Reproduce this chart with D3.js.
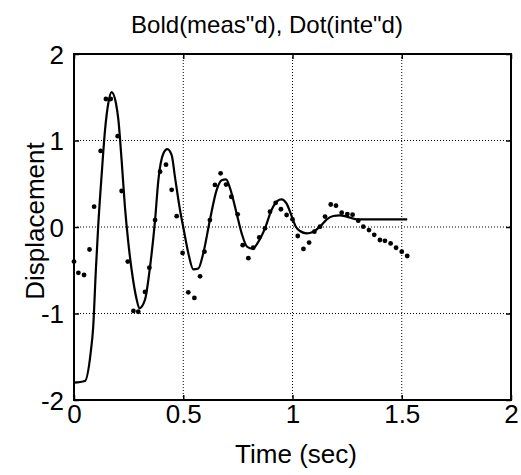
<!DOCTYPE html>
<html>
<head>
<meta charset="utf-8">
<script src="https://cdn.jsdelivr.net/npm/d3@7"></script>
<style>
  html, body { margin: 0; padding: 0; background: #fff; }
  svg { display: block; }
  text { font-family: "Liberation Sans", Arial, sans-serif; fill: #000; }
</style>
</head>
<body>
<svg id="chart" width="521" height="475"></svg>
<script>
// Measured response (solid line): time (s) and displacement
const measT = [0, 0.05, 0.076, 0.088, 0.1, 0.111, 0.127, 0.142, 0.157, 0.172, 0.192, 0.203, 0.218, 0.233,
  0.249, 0.264, 0.287, 0.299, 0.325, 0.348, 0.371, 0.386, 0.409, 0.427, 0.447, 0.462, 0.485, 0.5,
  0.523, 0.546, 0.569, 0.592, 0.622, 0.653, 0.676, 0.696, 0.714, 0.744, 0.767, 0.793, 0.818, 0.844,
  0.874, 0.904, 0.93, 0.95, 0.973, 0.996, 1.016, 1.034, 1.065, 1.095, 1.126, 1.157, 1.187, 1.217,
  1.248, 1.294, 1.525];
const measV = [-1.80, -1.78, -1.46, -1.15, -0.50, 0.02, 0.62, 1.12, 1.43, 1.56, 1.43, 1.24, 0.77, 0.235,
  -0.19, -0.50, -0.84, -0.94, -0.84, -0.46, 0.08, 0.54, 0.85, 0.90, 0.83, 0.58, 0.20, 0.0,
  -0.30, -0.49, -0.48, -0.30, 0.08, 0.43, 0.54, 0.55, 0.45, 0.16, -0.07, -0.23, -0.25, -0.17,
  -0.015, 0.197, 0.30, 0.32, 0.27, 0.127, 0.0, -0.046, -0.073, -0.054, 0.004, 0.089, 0.127, 0.135,
  0.12, 0.089, 0.089];

// Integrated estimate (dots): time (s) and displacement
const inteT = [0, 0.02, 0.046, 0.071, 0.092, 0.122, 0.146, 0.168, 0.2, 0.218, 0.246, 0.272, 0.294,
  0.325, 0.345, 0.371, 0.394, 0.421, 0.447, 0.47, 0.497, 0.523, 0.551, 0.577, 0.597, 0.622, 0.645,
  0.671, 0.696, 0.72, 0.749, 0.772, 0.798, 0.82, 0.848, 0.874, 0.897, 0.923, 0.947, 0.973, 1.0,
  1.024, 1.05, 1.076, 1.1, 1.126, 1.149, 1.175, 1.199, 1.225, 1.251, 1.275, 1.301, 1.324, 1.35,
  1.374, 1.4, 1.423, 1.449, 1.474, 1.5, 1.525];
const inteV = [-0.40, -0.53, -0.555, -0.26, 0.235, 0.88, 1.48, 1.48, 1.05, 0.416, -0.40, -0.97, -0.98,
  -0.75, -0.47, 0.08, 0.64, 0.72, 0.43, 0.125, -0.30, -0.755, -0.82, -0.57, -0.285, 0.08, 0.486,
  0.62, 0.49, 0.35, 0.147, -0.21, -0.36, -0.24, -0.12, -0.015, 0.177, 0.28, 0.205, 0.139, 0.089,
  -0.104, -0.254, -0.18, -0.054, 0.004, 0.12, 0.26, 0.246, 0.166, 0.15, 0.142, 0.073, 0.004, -0.035,
  -0.09, -0.15, -0.16, -0.19, -0.24, -0.285, -0.335];

const xTicks = [0, 0.5, 1, 1.5, 2];
const yTicks = [-2, -1, 0, 1, 2];
const xTickLabels = ["0", "0.5", "1", "1.5", "2"];
const yTickLabels = ["-2", "-1", "0", "1", "2"];

const titleText = "Bold(meas\"d), Dot(inte\"d)";
const xLabel = "Time (sec)";
const yLabel = "Displacement";

const svg = d3.select("#chart");
const L = 74, R = 511, T = 54, B = 400;

const x = d3.scaleLinear().domain([0, 2]).range([L, R]);
const y = d3.scaleLinear().domain([-2, 2]).range([B, T]);

// Dotted grid
const grid = svg.append("g").attr("stroke", "#000").attr("stroke-width", 1)
  .attr("stroke-dasharray", "1,2").attr("fill", "none");
grid.selectAll("line.gx").data(xTicks.slice(1, -1)).join("line")
  .attr("x1", d => x(d)).attr("x2", d => x(d)).attr("y1", T).attr("y2", B);
grid.selectAll("line.gy").data(yTicks.slice(1, -1)).join("line")
  .attr("y1", d => y(d)).attr("y2", d => y(d)).attr("x1", L).attr("x2", R);

// Axes with inward ticks on all four sides
const tickLen = 5;
svg.append("g").attr("transform", `translate(0,${B})`)
  .call(d3.axisBottom(x).tickValues(xTicks).tickSizeInner(-tickLen).tickSizeOuter(0).tickFormat((d, i) => xTickLabels[i]))
  .call(g => g.selectAll("text").attr("dy", 0).attr("y", 23).style("font-size", "26px")
    .style("font-family", "'Liberation Sans', Arial, sans-serif"));
svg.append("g").attr("transform", `translate(0,${T})`)
  .call(d3.axisTop(x).tickValues(xTicks).tickSizeInner(-tickLen).tickSizeOuter(0).tickFormat(""));
svg.append("g").attr("transform", `translate(${L},0)`)
  .call(d3.axisLeft(y).tickValues(yTicks).tickSizeInner(-tickLen).tickSizeOuter(0).tickFormat((d, i) => yTickLabels[i]))
  .call(g => g.selectAll("text").attr("x", -10).attr("dy", "0.36em").style("font-size", "26px")
    .style("font-family", "'Liberation Sans', Arial, sans-serif"));
svg.append("g").attr("transform", `translate(${R},0)`)
  .call(d3.axisRight(y).tickValues(yTicks).tickSizeInner(-tickLen).tickSizeOuter(0).tickFormat(""));
svg.selectAll(".domain").remove();
svg.selectAll(".tick line").attr("stroke", "#000").attr("stroke-width", 1.5);
svg.selectAll(".tick text").attr("fill", "#000");

// Plot frame
svg.append("rect").attr("x", L).attr("y", T).attr("width", R - L).attr("height", B - T)
  .attr("fill", "none").attr("stroke", "#000").attr("stroke-width", 2);

// Measured response line
const line = d3.line().x((d, i) => x(measT[i])).y(d => y(d)).curve(d3.curveMonotoneX);
svg.append("path").datum(measV).attr("d", line)
  .attr("fill", "none").attr("stroke", "#000").attr("stroke-width", 2.2).attr("stroke-linejoin", "round");

// Integrated estimate dots
svg.append("g").selectAll("circle").data(inteV).join("circle")
  .attr("cx", (d, i) => x(inteT[i])).attr("cy", d => y(d)).attr("r", 2.4).attr("fill", "#000");

// Titles
svg.append("text").attr("x", 267).attr("y", 33).attr("text-anchor", "middle")
  .style("font-size", "24px").text(titleText);
svg.append("text").attr("x", 296).attr("y", 463).attr("text-anchor", "middle")
  .style("font-size", "26px").text(xLabel);
svg.append("text").attr("transform", "translate(44,221) rotate(-90)").attr("text-anchor", "middle")
  .style("font-size", "26px").text(yLabel);
</script>
</body>
</html>
